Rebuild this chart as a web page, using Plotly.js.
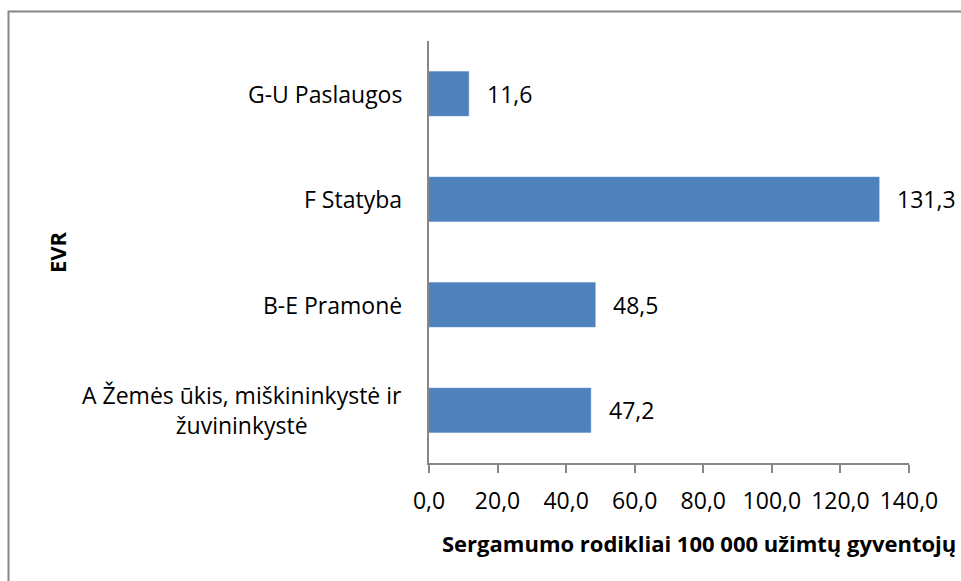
<!DOCTYPE html>
<html>
<head>
<meta charset="utf-8">
<script src="https://cdn.plot.ly/plotly-3.0.1.min.js"></script>
<style>
html,body{margin:0;padding:0;background:#fff;}
#chart{width:961px;height:581px;}
</style>
</head>
<body>
<div id="chart"></div>
<script>
const categories = ["A Žemės ūkis, miškininkystė ir<br>žuvininkystė", "B-E Pramonė", "F Statyba", "G-U Paslaugos"];
const values = [47.2, 48.5, 131.3, 11.6];
const valueLabels = ["47,2", "48,5", "131,3", "11,6"];
const xTickVals = [0, 20, 40, 60, 80, 100, 120, 140];
const xTickText = ["0,0", "20,0", "40,0", "60,0", "80,0", "100,0", "120,0", "140,0"];
const xTitle = "Sergamumo rodikliai 100 000 užimtų gyventojų";
const yTitle = "EVR";

const FONT = "'Open Sans', 'Noto Sans', sans-serif";
const FS = 23;
const plotLeft = 429, plotRight = 909, plotTop = 41, plotBottom = 463;
const W = 961, H = 581;
const pw = plotRight - plotLeft, ph = plotBottom - plotTop;

const trace = {
  type: 'bar',
  orientation: 'h',
  y: categories,
  x: values,
  marker: {color: '#4F81BD', line: {color: '#5A8AC6', width: 0.5}},
  hoverinfo: 'none'
};

const annotations = [];
categories.forEach((c, i) => {
  annotations.push({
    xref: 'paper', yref: 'y', x: 0, y: c,
    xanchor: 'right', yanchor: 'middle', xshift: -25,
    text: c, showarrow: false, align: 'center',
    font: {family: FONT, size: FS, color: '#000'}
  });
  annotations.push({
    xref: 'x', yref: 'y', x: values[i], y: c,
    xanchor: 'left', yanchor: 'middle', xshift: 16,
    text: valueLabels[i], showarrow: false,
    font: {family: FONT, size: FS, color: '#000'}
  });
});
annotations.push({
  xref: 'paper', yref: 'paper',
  x: (699 - plotLeft) / pw, y: (plotBottom - 543) / ph,
  xanchor: 'center', yanchor: 'middle',
  text: '<b>' + xTitle + '</b>', showarrow: false,
  font: {family: FONT, size: 22, color: '#000'}
});
annotations.push({
  xref: 'paper', yref: 'paper',
  x: (57 - plotLeft) / pw, y: (plotBottom - 252) / ph,
  xanchor: 'center', yanchor: 'middle', textangle: -90,
  text: '<b>' + yTitle + '</b>', showarrow: false,
  font: {family: FONT, size: 22, color: '#000'}
});

const layout = {
  width: W, height: H,
  margin: {l: plotLeft, r: W - plotRight, t: plotTop, b: H - plotBottom},
  paper_bgcolor: '#fff', plot_bgcolor: '#fff',
  showlegend: false,
  bargap: 0.58,
  xaxis: {
    range: [0, 140], tickvals: xTickVals, ticktext: xTickText,
    showgrid: false, zeroline: false,
    showline: true, linecolor: '#868686', linewidth: 2,
    ticks: 'outside', ticklen: 8, tickwidth: 2, tickcolor: '#868686',
    tickfont: {family: FONT, size: FS, color: '#000'},
    ticklabelstandoff: 8
  },
  yaxis: {
    type: 'category', categoryarray: categories, categoryorder: 'array',
    range: [-0.5, categories.length - 0.5],
    showticklabels: false, showgrid: false, zeroline: false,
    showline: true, linecolor: '#868686', linewidth: 2, ticks: ''
  },
  annotations: annotations,
  shapes: [{
    type: 'rect', xref: 'paper', yref: 'paper',
    x0: (8.5 - plotLeft) / pw, x1: (W + 20 - plotLeft) / pw,
    y0: (plotBottom - (H + 20)) / ph, y1: (plotBottom - 11.5) / ph,
    line: {color: '#868686', width: 2}, fillcolor: 'rgba(0,0,0,0)', layer: 'below'
  }]
};

Plotly.newPlot('chart', [trace], layout, {displayModeBar: false, staticPlot: true});
</script>
</body>
</html>
